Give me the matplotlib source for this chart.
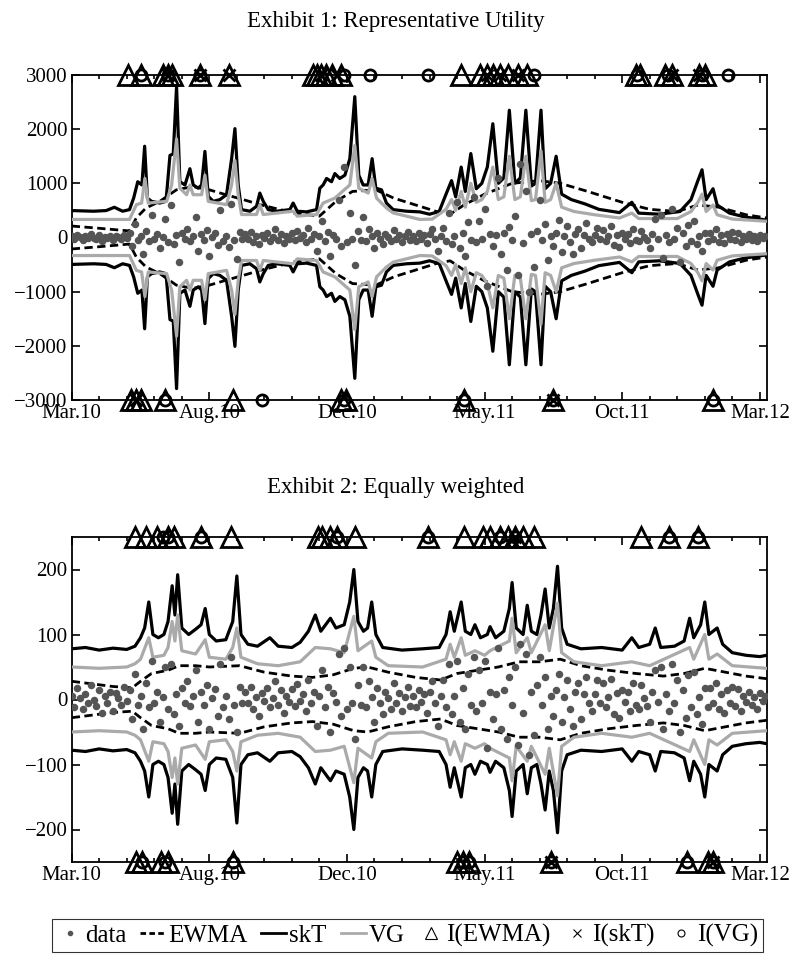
import numpy as np
import matplotlib
matplotlib.use('Agg')
import matplotlib.pyplot as plt
from matplotlib.lines import Line2D
from matplotlib.ticker import MultipleLocator, FixedLocator

plt.rcParams['font.family'] = ['Liberation Serif', 'DejaVu Serif']
plt.rcParams['axes.unicode_minus'] = True

# ---------------- data ----------------
tick_pos = [0, 100, 200, 300, 400, 500]
tick_labels = ['Mar.10', 'Aug.10', 'Dec.10', 'May.11', 'Oct.11', 'Mar.12']
obs_step = 2  # data dots every 2 observations

# Exhibit 1 : Representative Utility
data1 = [30, -20, 50, 10, -40, 20, -10, 60, 0, -30, 40, -60, 15, -15, 35, -45, 25, 5, -25, 55, -5,
         80, -150, 250, -40, 30, -300, 120, -60, 420, -20, 60, -200, 15, 350, -80, 600, -120, 40, -450, 90, -30,
         160, -60, 20, 380, -250, 70, -40, 130, -350, 10, 90, -130, 500, -70, 25, -180, 620, -40, -400, 110, -20,
         60, -30, 100, -80, 20, -120, 45, -15, 90, -60, 10, 150, -40, 70, -100, 30, -20, 80, -50, 120, -10,
         40, -90, 180, -30, 60, -250, 20, 300, -60, 110, -350, 50, -20, 700, -150, 1300, -80, 450, -30, -500, 120,
         -40, 380, -60, 150, 20, -200, 90, -20, -120, 60, 10, -70, 130, -30, 50, -90, 20, 110, -50, 30, -60,
         80, -20, 40, -110, 60, 150, -30, -250, 20, 180, -60, 450, -120, 30, 650, -200, 90, -350, 280, -40, 750,
         -90, 300, -20, 520, -900, 60, -150, 40, 1100, -300, 80, -600, 200, -40, 400, -700, 1350, -100, 850, -1000, 60,
         -550, 120, 700, -40, 250, -420, 30, -150, 80, 330, -260, 20, 220, -80, -310, 60, 150, -200, 40, 260, -30,
         -90, 40, 180, -30, 140, -60, 20, 210, -130, 50, -180, 80, -20, 60, -100, 150, -40, -70, 120, 10, -50,
         -200, 60, 350, -20, 420, -380, 40, -90, 520, -30, 180, -450, 80, -160, 240, -60, 300, -120, 20, -250, 90,
         -60, 90, -30, 150, -80, 40, -110, 70, -30, 100, -50, 80, -90, 30, -20, 60, -40, 20, -70, 50, -10, 30]

ewma1_t = [0, 20, 42, 47, 54, 64, 76, 88, 100, 112, 125, 137, 161, 180, 192, 204, 221, 234, 253,
           265, 275, 285, 300, 320, 340, 355, 375, 400, 420, 440, 455, 470, 490, 505]
ewma1_v = [212, 170, 121, 364, 545, 667, 879, 940, 880, 790, 697, 606, 454, 394, 667, 850, 880, 727, 576,
           480, 430, 600, 800, 1000, 1050, 1000, 850, 650, 520, 480, 600, 560, 420, 360]

skt1_t = [0, 16, 25, 31, 37, 42, 45, 48, 51, 53, 55, 58, 64, 68.5, 71.4, 73.8, 76.2, 78.6, 82.3, 85.9,
          88.3, 92, 94.4, 96.8, 99.2, 102.9, 107.7, 112.5, 116.2, 118.6, 121, 123.4, 129.5, 134.3, 136.7,
          139.2, 142.8, 148.9, 158.5, 160.9, 163.9, 170.6, 177.9, 180.3, 182.7, 185.2, 188.8, 191.2, 194.8,
          198.5, 202.1, 205.7, 208.6, 211.8, 215.4, 218.3, 221, 225.1, 228.7, 233.6, 243.3, 253,
          260, 267, 272, 276, 279, 283, 286, 290, 294, 298, 302, 306, 310, 314, 318, 322, 326, 330, 334,
          337, 341, 344, 348, 352, 356, 363, 373, 383, 398, 407, 412, 427, 442, 450, 455, 458, 461, 466,
          469, 478, 489, 500, 505]
skt1_v = [497, 485, 497, 558, 485, 515, 727, 1030, 970, 1685, 727, 667, 636, 667, 1515, 1545, 2790, 1030, 970, 1270,
          970, 910, 970, 1590, 760, 667, 700, 790, 1455, 2010, 970, 515, 485, 576, 820,
          667, 515, 485, 515, 636, 485, 473, 515, 910, 970, 1090, 1030, 1180, 1090,
          1150, 1455, 2600, 1150, 970, 970, 1455, 910, 880, 636, 515, 485, 473,
          430, 480, 800, 1050, 750, 1300, 850, 1550, 900, 1000, 1300, 2100, 1000, 1100, 2350, 1000, 1100, 2350, 950,
          1000, 2350, 900, 1000, 1500, 800, 700, 620, 520, 460, 650, 450, 430, 480, 700, 1050, 1250, 700, 900,
          600, 450, 380, 340, 320]

vg1_t = [0, 42, 47, 50.8, 53.2, 55.6, 69, 72.6, 76.2, 78.6, 83.5, 85.9, 88.3, 94.4, 96.8, 99.2, 112.5, 116.2,
         118.6, 121, 123.4, 134.3, 136.7, 139.2, 160.9, 163.9, 177.9, 182.7, 191.2, 202.1, 205.7, 208.6, 215.4,
         218.3, 221.5, 228.7, 233.6, 253,
         262, 272, 276, 279, 283, 286, 290, 294, 298, 302, 306, 310, 314, 318, 322, 326, 330, 334, 337, 341,
         344, 348, 352, 356, 365, 380, 398, 407, 412, 440, 450, 455, 458, 461, 466, 469, 480, 505]
vg1_v = [333, 333, 606, 636, 1090, 636, 667, 970, 1820, 910, 790, 970, 790, 790, 1150, 667, 606, 970,
         1420, 790, 424, 424, 606, 424, 485, 394, 424, 636, 727, 970, 1700, 910, 820,
         1090, 727, 545, 454, 333,
         340, 520, 700, 500, 850, 560, 1000, 650, 700, 850, 1300, 700, 750, 1500, 700, 750, 1500, 680, 700, 1600,
         650, 700, 1000, 560, 480, 420, 360, 450, 350, 350, 480, 650, 800, 480, 600, 420, 340, 300]

ewma1_top = [41, 50, 66, 70, 73, 93, 114, 175, 178, 181, 185, 189, 196, 283, 297, 302, 306, 311, 317, 324, 331,
             410, 413, 431, 436, 456, 460]
skt1_top = [70, 93, 114, 181, 193, 302, 311, 324, 436, 456]
vg1_top = [50, 70, 93, 198, 217, 259, 336, 411, 433, 458, 477]
ewma1_bot = [43, 47, 50, 68, 117, 196, 199, 285, 350, 466]
skt1_bot = [47, 350]
vg1_bot = [68, 138, 198, 285, 350, 466]

# Exhibit 2 : Equally weighted
data2 = [5, -12, 18, 2, -15, 8, -5, 22, 0, -10, 14, -20, 6, -6, 12, -18, 10, 3, -9, 20, -3,
         15, -30, 40, -8, 6, -45, 25, -12, 60, -5, 12, -35, 4, 50, -15, 55, -22, 8, -40, 18, -6,
         28, -10, 5, 45, -35, 12, -8, 22, -45, 3, 16, -25, 55, -12, 6, -30, 65, -8, -50, 20, -5,
         12, -6, 20, -15, 4, -25, 10, -3, 18, -12, 2, 28, -8, 14, -20, 6, -4, 16, -10, 24, -2,
         8, -18, 30, -6, 12, -40, 5, 45, -12, 20, -50, 10, -4, 70, -25, 80, -15, 50, -6, -60, 22,
         -8, 50, -12, 28, 4, -35, 18, -5, -22, 12, 3, -14, 25, -6, 10, -18, 4, 20, -10, 6, -12,
         15, -4, 8, -20, 12, 28, -6, -40, 5, 30, -12, 55, -22, 6, 60, -35, 18, -45, 40, -8, 65,
         -18, 45, -5, 60, -75, 12, -30, 8, 80, -45, 15, -60, 35, -8, 50, -70, 85, -20, 70, -85, 12,
         -55, 22, 65, -8, 35, -45, 6, -25, 15, 40, -35, 4, 30, -15, -40, 12, 25, -30, 8, 35, -6,
         -18, 8, 30, -6, 25, -12, 4, 32, -22, 10, -28, 15, -4, 12, -18, 26, -8, -14, 22, 2, -10,
         -35, 12, 45, -4, 50, -45, 8, -18, 55, -6, 30, -50, 15, -28, 38, -12, 42, -22, 4, -38, 18,
         -12, 18, -6, 25, -15, 8, -20, 14, -5, 20, -10, 16, -18, 6, -4, 12, -8, 4, -14, 10, -2, 6]

ewma2_t = [0, 15, 30, 44, 50, 58, 70, 78, 90, 100, 122, 140, 160, 175, 190, 205, 215, 230, 250, 268,
           280, 295, 310, 325, 340, 355, 370, 390, 410, 430, 445, 460, 475, 490, 505]
ewma2_v = [28, 24, 20, 18, 28, 40, 45, 52, 52, 50, 52, 42, 36, 34, 38, 48, 50, 42, 34, 30,
           40, 45, 50, 58, 58, 62, 52, 45, 40, 36, 40, 48, 42, 36, 32]

skt2_t = [0, 10, 20, 30, 40, 46, 50, 53, 56, 59, 63, 67, 70, 73, 75, 77, 80, 85, 90, 94, 97, 100, 105,
          112, 117, 120, 123, 128, 135, 144, 150, 160, 166, 172, 177, 181, 188, 192, 198, 202, 205, 208,
          212, 215, 218, 221, 226, 240, 255, 267, 272, 275, 278, 283, 286, 290, 293, 297, 302, 304, 308,
          314, 318, 320, 323, 328, 331, 334, 338, 341, 344, 347, 350, 353, 356, 360, 370, 385, 400, 407,
          412, 420, 424, 428, 438, 445, 449, 452, 457, 460, 463, 466, 469, 473, 480, 490, 500, 505]
skt2_v = [78, 80, 76, 79, 77, 82, 95, 110, 150, 100, 95, 100, 120, 175, 130, 192, 110, 100, 108, 115, 140, 100, 90,
          92, 120, 190, 100, 85, 82, 95, 82, 80, 88, 105, 130, 105, 125, 110, 115, 150, 200, 120,
          105, 110, 150, 100, 80, 76, 78, 80, 100, 135, 105, 150, 105, 100, 115, 95, 100, 112, 95,
          105, 140, 180, 110, 100, 145, 105, 100, 130, 170, 110, 140, 205, 110, 85, 78, 80, 76, 95,
          80, 85, 110, 80, 82, 90, 125, 95, 115, 150, 100, 105, 110, 85, 72, 68, 66, 68]

vg2_t = [0, 20, 40, 46, 50, 56, 59, 67, 70, 73, 75, 77, 80, 90, 97, 100, 112, 117, 120, 123, 135, 150,
         166, 177, 188, 198, 205, 208, 218, 221, 230, 255, 272, 275, 278, 283, 286, 293, 300, 304, 318,
         320, 323, 331, 334, 344, 347, 353, 356, 365, 385, 407, 420, 449, 452, 460, 463, 469, 480, 505]
vg2_v = [50, 48, 50, 55, 62, 95, 65, 68, 80, 120, 90, 130, 75, 70, 92, 65, 62, 80, 110, 65, 55, 52,
         58, 80, 78, 72, 128, 75, 90, 65, 52, 50, 62, 85, 65, 95, 68, 75, 68, 75, 90,
         125, 72, 95, 72, 115, 75, 148, 72, 58, 52, 58, 52, 80, 62, 100, 62, 70, 52, 48]

ewma2_top = [46, 54, 62, 70, 74, 94, 116, 179, 182, 188, 193, 206, 259, 285, 299, 304, 311, 317, 322, 328, 336,
             414, 434, 455]
skt2_top = [322]
vg2_top = [66, 70, 94, 193, 259, 311, 322, 434, 455]
ewma2_bot = [47, 51, 65, 70, 117, 280, 284, 289, 348, 447, 462, 466]
skt2_bot = [348, 466]
vg2_bot = [51, 68, 117, 284, 289, 348, 447, 466]

# ---------------- styling ----------------
DOT = '#555555'
GRAY = '#aaaaaa'
W, H = 796, 961
fig = plt.figure(figsize=(W / 100, H / 100), dpi=100)


def add_axes(top_px, bottom_px):
    left, right = 71.7, 766.7
    return fig.add_axes([left / W, 1 - bottom_px / H, (right - left) / W, (bottom_px - top_px) / H])


def draw_panel(ax, data, ew_t, ew_v, sk_t, sk_v, vg_t, vg_v, ev_top, sk_top, vg_top,
               ev_bot, sk_bot, vg_bot, lim, ystep):
    ew_t, ew_v = np.array(ew_t), np.array(ew_v)
    sk_t, sk_v = np.array(sk_t), np.array(sk_v)
    vg_t, vg_v = np.array(vg_t), np.array(vg_v)
    for sgn in (1, -1):
        ax.plot(ew_t, sgn * ew_v, color='k', lw=2.0, ls=(0, (3, 1.6)), zorder=2)
        ax.plot(sk_t, sgn * sk_v, color='k', lw=2.3, zorder=3, solid_joinstyle='round')
        ax.plot(vg_t, sgn * vg_v, color=GRAY, lw=2.3, zorder=4, solid_joinstyle='round')
    t = np.arange(len(data)) * obs_step
    ax.plot(t, data, ls='none', marker='o', ms=4.4, color=DOT, mec=DOT, zorder=5)
    for pos, y in ((ev_top, lim), (ev_bot, -lim)):
        ax.plot(pos, [y] * len(pos), ls='none', marker='^', ms=14, mfc='none', mec='k', mew=2,
                clip_on=False, zorder=6)
    for pos, y in ((sk_top, lim), (sk_bot, -lim)):
        ax.plot(pos, [y] * len(pos), ls='none', marker='x', ms=8, mec='k', mew=2,
                clip_on=False, zorder=6)
    for pos, y in ((vg_top, lim), (vg_bot, -lim)):
        ax.plot(pos, [y] * len(pos), ls='none', marker='o', ms=8, mfc='none', mec='k', mew=2,
                clip_on=False, zorder=6)
    ax.set_xlim(0, 505)
    ax.set_ylim(-lim, lim)
    ax.xaxis.set_major_locator(FixedLocator(tick_pos))
    ax.set_xticklabels(tick_labels)
    ax.xaxis.set_minor_locator(MultipleLocator(20))
    ax.yaxis.set_major_locator(MultipleLocator(ystep))
    ax.tick_params(which='both', direction='in', top=True, right=True, labelsize=15, width=1.2)
    ax.tick_params(which='major', length=6, pad=3)
    ax.tick_params(which='minor', length=3)
    for s in ax.spines.values():
        s.set_linewidth(1.3)


ax1 = add_axes(75, 400)
draw_panel(ax1, data1, ewma1_t, ewma1_v, skt1_t, skt1_v, vg1_t, vg1_v,
           ewma1_top, skt1_top, vg1_top, ewma1_bot, skt1_bot, vg1_bot, 3000, 1000)
ax2 = add_axes(537, 862)
draw_panel(ax2, data2, ewma2_t, ewma2_v, skt2_t, skt2_v, vg2_t, vg2_v,
           ewma2_top, skt2_top, vg2_top, ewma2_bot, skt2_bot, vg2_bot, 250, 100)

fig.text(0.497, 1 - 22 / H, 'Exhibit 1: Representative Utility', ha='center', va='center', fontsize=16.5)
fig.text(0.497, 1 - 487 / H, 'Exhibit 2: Equally weighted', ha='center', va='center', fontsize=16.5)

handles = [
    Line2D([], [], ls='none', marker='.', ms=6, color=DOT),
    Line2D([], [], color='k', lw=2, ls=(0, (2, 1.2))),
    Line2D([], [], color='k', lw=2),
    Line2D([], [], color=GRAY, lw=2),
    Line2D([], [], ls='none', marker='^', ms=8, mfc='none', mec='k', mew=0.8),
    Line2D([], [], ls='none', marker='x', ms=6, mec='k', mew=0.8),
    Line2D([], [], ls='none', marker='o', ms=5, mfc='none', mec='k', mew=0.8),
]
labels = ['data', 'EWMA', 'skT', 'VG', 'I(EWMA)', 'I(skT)', 'I(VG)']
leg = fig.legend(handles, labels, loc='lower center', bbox_to_anchor=(0.512, -0.004), ncol=7,
                 fontsize=18, handlelength=1.0, handletextpad=0.12, columnspacing=0.55,
                 frameon=True, fancybox=False, borderpad=0.2, edgecolor='k')
leg.get_frame().set_linewidth(0.8)

fig.savefig('out.png', dpi=100)
